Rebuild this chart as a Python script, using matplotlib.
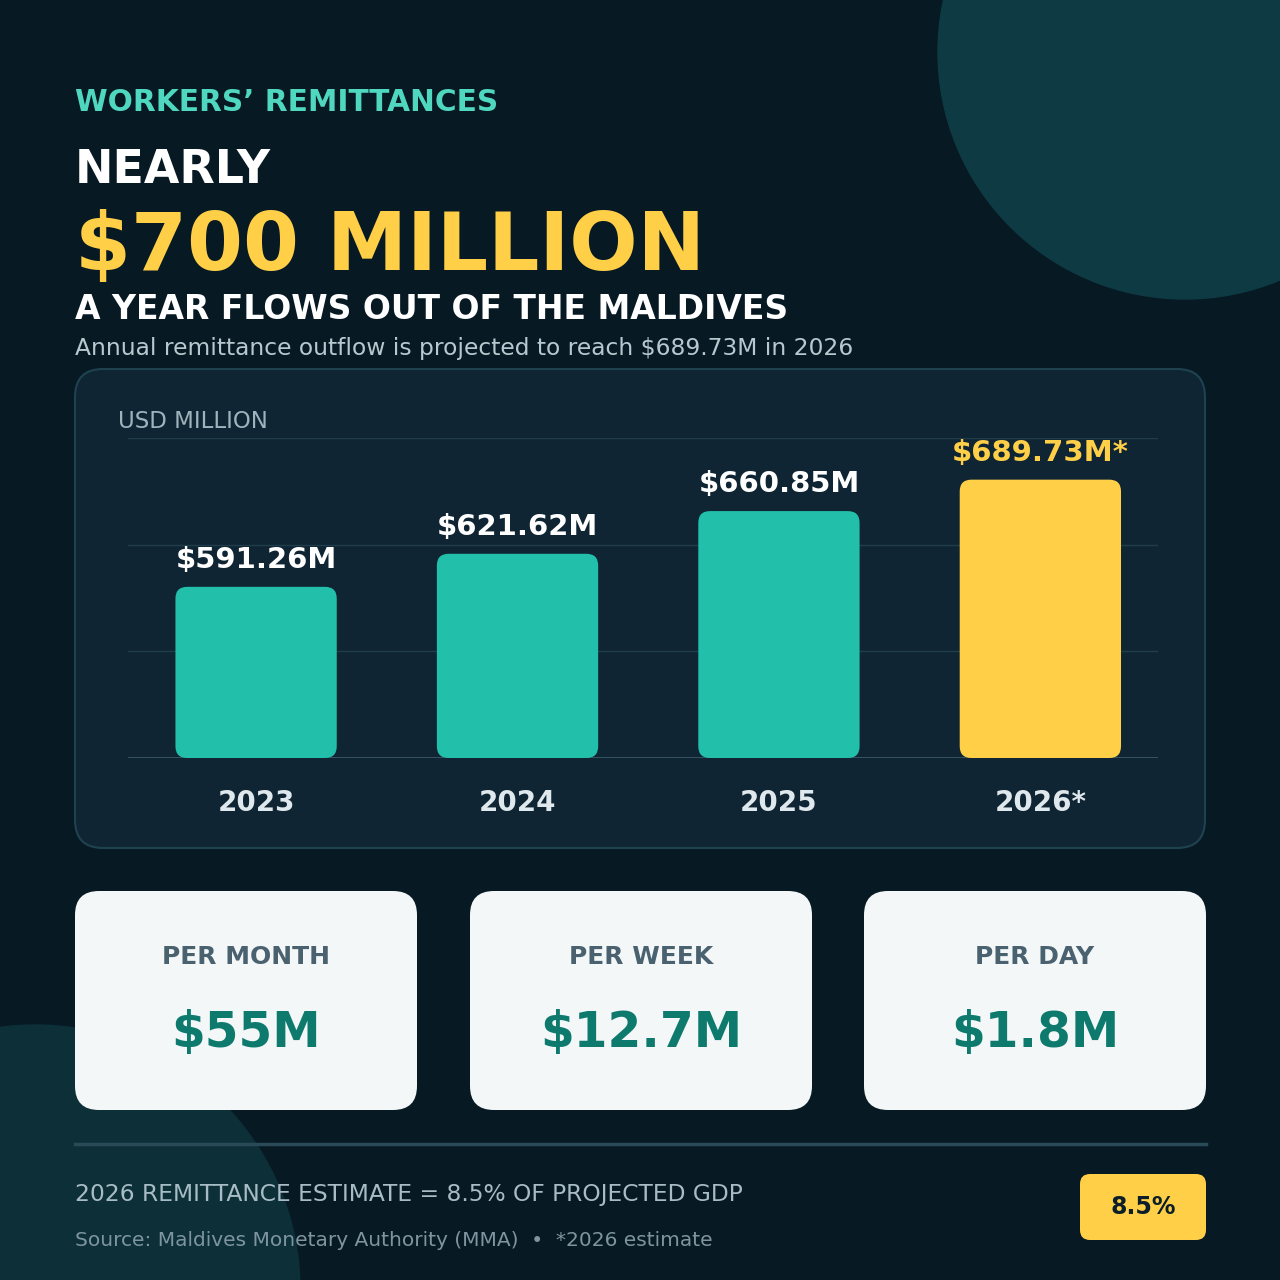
import matplotlib.pyplot as plt
from matplotlib.patches import FancyBboxPatch, Circle, Rectangle

years = ['2023', '2024', '2025', '2026*']
values = [591.26, 621.62, 660.85, 689.73]
value_labels = ['$591.26M', '$621.62M', '$660.85M', '$689.73M*']
card_titles = ['PER MONTH', 'PER WEEK', 'PER DAY']
card_values = ['$55M', '$12.7M', '$1.8M']

BG = '#071923'
PANEL = '#0f2533'
TEAL = '#22bfaa'
GOLD = '#ffcf48'
W = 1280


def fx(x):
    return x / W


def fy(y):
    return 1 - y / W


def rounded_box(fig, x0, y0, x1, y1, face, edge='none', r=22, z=1):
    # pixel box (top-down y) to figure coords
    box = FancyBboxPatch((fx(x0), fy(y1)), fx(x1 - x0), (y1 - y0) / W,
                         boxstyle=f'round,pad=0,rounding_size={r / W}',
                         transform=fig.transFigure, facecolor=face,
                         edgecolor=edge, linewidth=1.5, zorder=z)
    fig.patches.append(box)


def draw_header(fig):
    fig.text(fx(75), fy(111), 'WORKERS’ REMITTANCES', color='#4fd8bf',
             fontsize=21.3, fontweight='bold', va='baseline')
    fig.text(fx(75), fy(183), 'NEARLY', color='white', fontsize=33,
             fontweight='bold', va='baseline')
    fig.text(fx(75), fy(270), '$700 MILLION', color=GOLD, fontsize=58,
             fontweight='bold', va='baseline')
    fig.text(fx(75), fy(319), 'A YEAR FLOWS OUT OF THE MALDIVES', color='white',
             fontsize=23.8, fontweight='bold', va='baseline')
    fig.text(fx(75), fy(355), 'Annual remittance outflow is projected to reach $689.73M in 2026',
             color='#b8c8cf', fontsize=16.8, va='baseline')


def draw_chart(fig):
    rounded_box(fig, 75, 369, 1205, 848, PANEL, edge='#1f4250', r=28)
    fig.text(fx(118), fy(428), 'USD MILLION', color='#9fb3bd', fontsize=16.5,
             va='baseline', zorder=4)
    ax = fig.add_axes([fx(128), fy(758), fx(1030), 320 / W])
    ax.set_zorder(5)
    ax.set_facecolor('none')
    ylo, yhi = 434, 728
    x_lo, x_hi = -0.49, 3.45
    ax.set_xlim(x_lo, x_hi)
    ax.set_ylim(ylo, yhi)
    step = (yhi - ylo) / 3
    for k in range(1, 4):
        ax.axhline(ylo + k * step, color='#1f3d4a', lw=1, zorder=0)
    ax.axhline(ylo, color='#3a5866', lw=2, zorder=0)
    aspect = ((yhi - ylo) / 320) / ((x_hi - x_lo) / 1030)
    bw = 0.617
    for i, v in enumerate(values):
        color = GOLD if i == 3 else TEAL
        ax.add_patch(FancyBboxPatch((i - bw / 2, ylo), bw, v - ylo,
                                    boxstyle='round,pad=0,rounding_size=0.045',
                                    mutation_aspect=aspect, facecolor=color,
                                    edgecolor='none', zorder=2))
        ax.text(i, v + 12, value_labels[i], ha='center', va='bottom',
                color=GOLD if i == 3 else 'white', fontsize=21, fontweight='bold')
        fig.text(fx(128 + (i - x_lo) / (x_hi - x_lo) * 1030), fy(811), years[i],
                 ha='center', va='baseline', color='#dfe8ec', fontsize=20,
                 fontweight='bold', zorder=4)
    ax.axis('off')


def draw_cards(fig):
    lefts = [75, 470, 864]
    for x0, t, v in zip(lefts, card_titles, card_values):
        rounded_box(fig, x0, 891, x0 + 342, 1110, '#f3f7f8', r=24, z=3)
        fig.text(fx(x0 + 171), fy(964), t, ha='center', va='baseline',
                 color='#4a6270', fontsize=18, fontweight='bold', zorder=4)
        fig.text(fx(x0 + 171), fy(1047), v, ha='center', va='baseline',
                 color='#0e7a6e', fontsize=35, fontweight='bold', zorder=4)


def draw_footer(fig):
    fig.add_artist(plt.Line2D([fx(75), fx(1206)], [fy(1144), fy(1144)],
                              color='#2a4a58', lw=2.5, transform=fig.transFigure))
    fig.text(fx(75), fy(1201), '2026 REMITTANCE ESTIMATE = 8.5% OF PROJECTED GDP',
             color='#a8bcc6', fontsize=16.8, va='baseline')
    fig.text(fx(75), fy(1246), 'Source: Maldives Monetary Authority (MMA)  •  *2026 estimate',
             color='#7e95a0', fontsize=14.5, va='baseline')
    rounded_box(fig, 1080, 1174, 1206, 1240, GOLD, r=10, z=3)
    fig.text(fx(1143), fy(1207), '8.5%', ha='center', va='center',
             color='#0c1f28', fontsize=17, fontweight='bold', zorder=4)


fig = plt.figure(figsize=(12.8, 12.8), dpi=100, facecolor=BG)
bgax = fig.add_axes([0, 0, 1, 1])
bgax.set_zorder(-1)
bgax.set_xlim(0, W)
bgax.set_ylim(W, 0)
bgax.set_aspect('equal')
bgax.axis('off')
bgax.add_patch(Rectangle((0, 0), W, W, color=BG, zorder=0))
bgax.add_patch(Circle((1185, 52), 247, color='#0e3a44', zorder=1))
bgax.add_patch(Circle((35, 1290), 265, color='#0c2f38', zorder=1))

draw_header(fig)
draw_chart(fig)
draw_cards(fig)
draw_footer(fig)

fig.savefig('out.png', dpi=100, facecolor=BG)
